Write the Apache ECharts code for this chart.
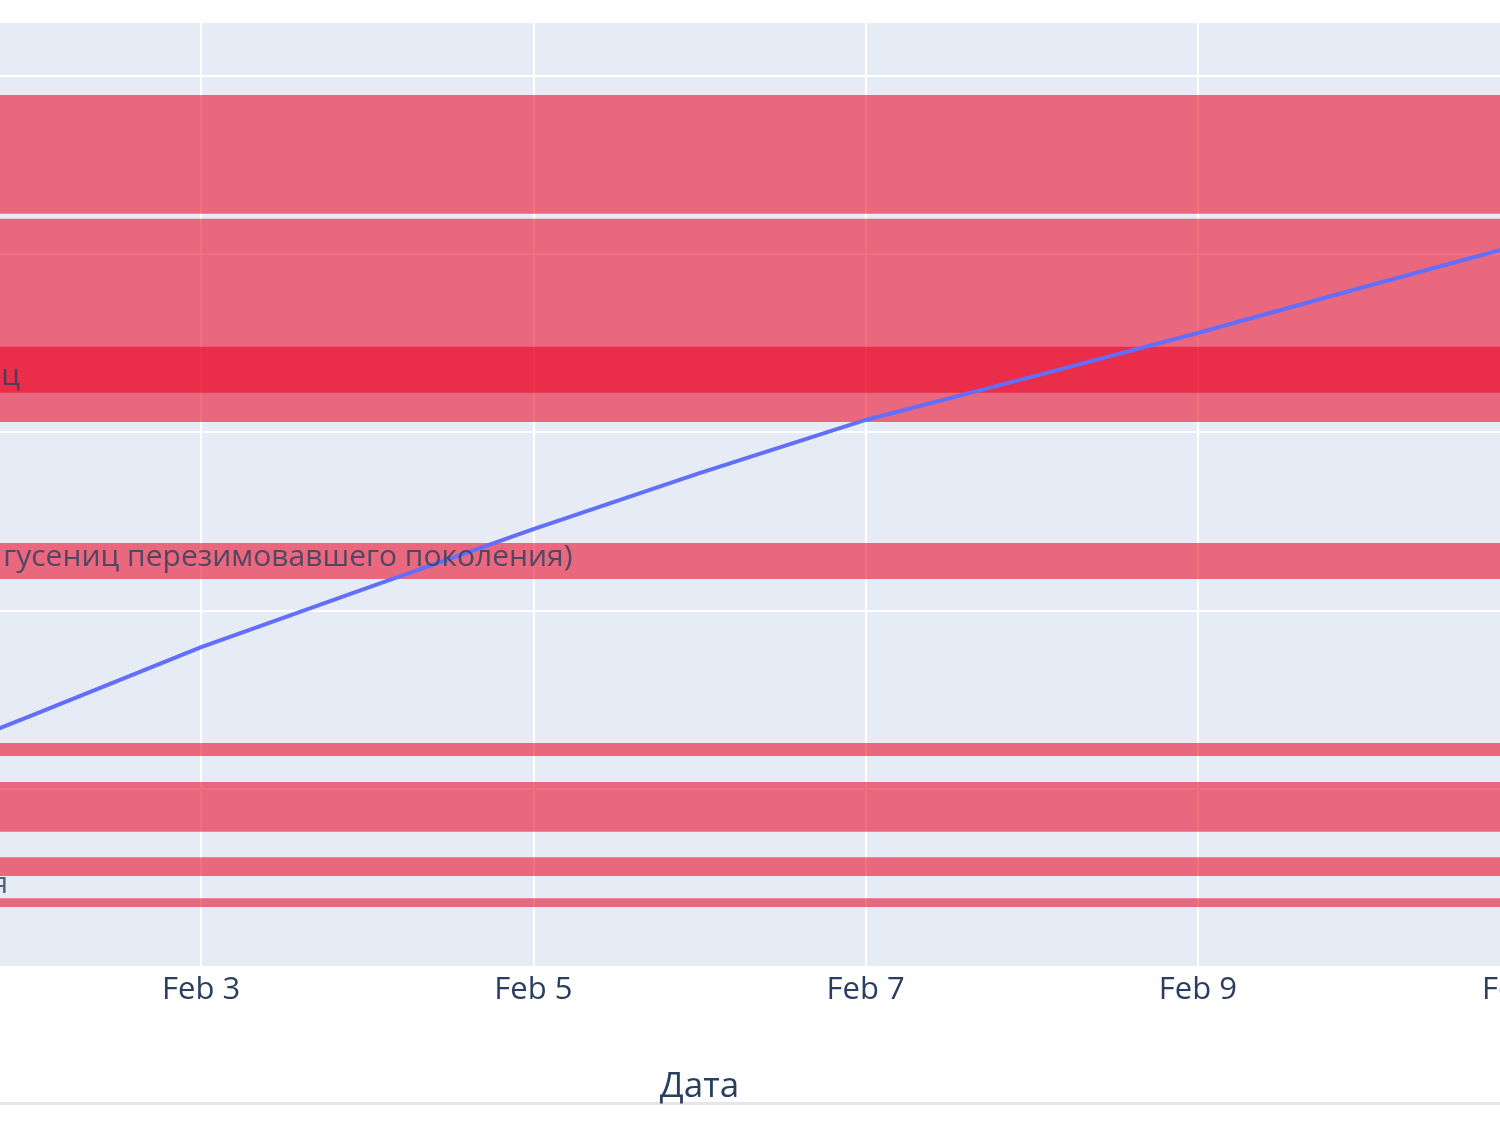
<!DOCTYPE html>
<html><head><meta charset="utf-8">
<script src="https://cdn.jsdelivr.net/npm/echarts@6/dist/echarts.min.js"></script>
<style>html,body{margin:0;padding:0;background:#fff;overflow:hidden;width:1500px;height:1125px}
#c{position:absolute;left:-131px;top:0;width:1661px;height:1125px}</style>
</head><body><div id="c"></div>
<script>
// ---- data ----
const axisStart = '2024-02-01';
const axisEnd = '2024-02-11';
const dates = ['2024-02-01','2024-02-02','2024-02-03','2024-02-04','2024-02-05','2024-02-06','2024-02-07','2024-02-08','2024-02-09','2024-02-10','2024-02-11'];
const sumValues = [52.4, 70.9, 89.7, 106.3, 122.8, 138.5, 153.4, 165.5, 177.8, 190.7, 203.3];
const bandLow  = [211.2, 152.8, 161.0, 108.8, 59.2, 37.9, 25.5, 16.8];
const bandHigh = [244.5, 209.8, 173.9, 118.9, 62.8, 51.9, 30.8, 19.3];
const annoText  = ['ц', 'гусениц перезимовавшего поколения)', 'я'];
const annoDate  = ['2024-02-01T21:50Z', '2024-02-05T05:39Z', '2024-02-01T20:05Z'];
const annoValue = [165.6, 114.8, 23.1];
const yMin = 0, yMax = 265, yStep = 50;
const xStepDays = 2;
const xAxisTitle = 'Дата';

// ---- helpers ----
const DAY = 86400000;
const t0 = Date.parse(axisStart);
const dayOff = s => (Date.parse(s) - t0) / DAY;
const MONTHS = ['Jan','Feb','Mar','Apr','May','Jun','Jul','Aug','Sep','Oct','Nov','Dec'];
const fmt = v => { const d = new Date(t0 + v * DAY); return MONTHS[d.getUTCMonth()] + ' ' + d.getUTCDate(); };

const txt = '#2a3f5f';
const font = 'Open Sans';

const chart = echarts.init(document.getElementById('c'), null, {renderer: 'canvas'});
chart.setOption({
  animation: false,
  backgroundColor: '#ffffff',
  textStyle: {fontFamily: font},
  grid: {left: 0, right: 0, top: 22, bottom: 158, show: true, backgroundColor: '#E5ECF6', borderWidth: 0,
         containLabel: false, outerBoundsMode: 'none'},
  xAxis: {
    type: 'value', min: 0, max: dayOff(axisEnd), interval: xStepDays,
    axisLine: {show: false}, axisTick: {show: false},
    axisLabel: {formatter: fmt, fontSize: 31, color: txt, margin: 8, fontFamily: font},
    splitLine: {show: true, lineStyle: {color: '#ffffff', width: 2}},
    name: xAxisTitle, nameLocation: 'middle', nameGap: 103,
    nameTextStyle: {fontSize: 35, color: txt, fontFamily: font}
  },
  yAxis: {
    type: 'value', min: yMin, max: yMax, interval: yStep,
    axisLine: {show: false}, axisTick: {show: false}, axisLabel: {show: false},
    splitLine: {show: true, lineStyle: {color: '#ffffff', width: 2}}
  },
  graphic: [{type: 'rect', left: 0, top: 1102, shape: {width: 1661, height: 3}, style: {fill: '#E6E6EA'}, silent: true}],
  series: [
    {
      type: 'line', data: [], z: 1, silent: true,
      markArea: {
        silent: true,
        itemStyle: {color: 'rgb(235,0,30)', opacity: 0.56},
        data: bandLow.map((lo, i) => [{yAxis: lo}, {yAxis: bandHigh[i]}])
      }
    },
    {
      type: 'line', z: 5, showSymbol: false, smooth: false,
      data: dates.map((d, i) => [dayOff(d), sumValues[i]]),
      lineStyle: {color: '#636EFA', width: 4}
    },
    {
      type: 'scatter', z: 6, symbolSize: 0, silent: true,
      data: annoText.map((t, i) => ({value: [dayOff(annoDate[i]), annoValue[i]], name: t})),
      label: {show: true, position: 'left', distance: 0, formatter: p => p.name,
        fontSize: 30, color: txt, fontFamily: font}
    }
  ]
});
</script></body></html>
